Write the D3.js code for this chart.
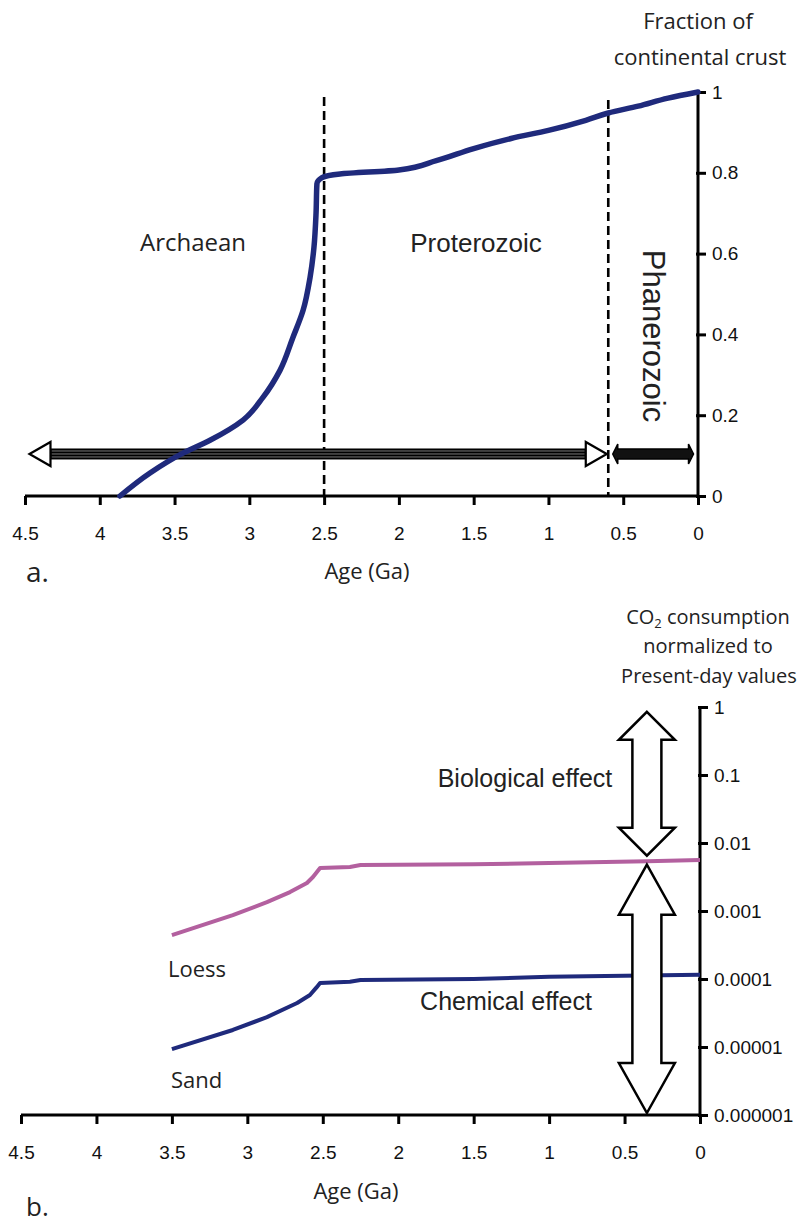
<!DOCTYPE html>
<html>
<head>
<meta charset="utf-8">
<script src="https://cdn.jsdelivr.net/npm/d3@7"></script>
<style>
  body { margin: 0; background: #fff; }
</style>
</head>
<body>
<script>
var w = 799;
var h = 1227;

// panel a: cumulative fraction of continental crust
var crustAge  = [3.865, 3.664, 3.444, 3.263, 3.042, 2.909, 2.795, 2.708, 2.641, 2.594, 2.568, 2.554, 2.548, 2.514, 2.394, 2.0, 1.75, 1.5, 1.25, 1.0, 0.75, 0.6, 0.4, 0.2, 0];
var crustFrac = [0, 0.057, 0.106, 0.138, 0.188, 0.244, 0.311, 0.393, 0.459, 0.541, 0.615, 0.699, 0.773, 0.788, 0.797, 0.807, 0.83, 0.86, 0.885, 0.905, 0.93, 0.948, 0.965, 0.985, 1.0];

// panel b: CO2 consumption (normalized)
var loessAge = [3.5, 3.096, 2.87, 2.717, 2.605, 2.565, 2.518, 2.32, 2.25, 1.5, 1.0, 0.35, 0];
var loessVal = [0.000443, 0.00087, 0.00135, 0.0019, 0.00258, 0.00316, 0.00429, 0.00444, 0.00474, 0.00485, 0.0051, 0.0054, 0.0056];
var sandAge  = [3.5, 3.096, 2.87, 2.67, 2.585, 2.54, 2.518, 2.32, 2.25, 1.5, 1.0, 0];
var sandVal  = [0.0000093, 0.0000178, 0.0000275, 0.0000444, 0.0000582, 0.0000759, 0.0000871, 0.0000912, 0.0000966, 0.0001, 0.000108, 0.000115];

var ageTicks = [4.5, 4, 3.5, 3, 2.5, 2, 1.5, 1, 0.5, 0];
var fracTicks = [0, 0.2, 0.4, 0.6, 0.8, 1];
var logTicks = [1, 0.1, 0.01, 0.001, 0.0001, 0.00001, 0.000001];
var logLabels = ["1", "0.1", "0.01", "0.001", "0.0001", "0.00001", "0.000001"];

// era boundaries (Ga)
var eraBounds = [2.5, 0.6];

var svg = d3.select("body").append("svg")
            .attr("width", w)
            .attr("height", h);

var humanist = "'Open Sans', 'Noto Sans', sans-serif";
var arial = "'Liberation Sans', Arial, sans-serif";
var navy = "#1f2a7c";
var pink = "#b3609f";

// tick labels in reference are a condensed Arial; use narrow face if present
var tickFont = "'Liberation Sans Narrow', 'Liberation Sans', Arial, sans-serif";
var tickSize = "21px";
var probe = svg.append("text").style("font-family", tickFont).style("font-size", tickSize).text("0.000001");
if (probe.node().getComputedTextLength() > 80) {
  tickFont = arial;
  tickSize = "19px";
}
probe.remove();

function styleAxis(g) {
  g.selectAll("line, path").attr("stroke", "#000").attr("stroke-width", 3);
  g.selectAll(".tick text")
   .style("font-family", tickFont)
   .style("font-size", tickSize)
   .attr("fill", "#111");
}

// ---------------- panel a ----------------
var xA = d3.scaleLinear().domain([4.5, 0]).range([25, 698]);
var yA = d3.scaleLinear().domain([0, 1]).range([496, 92]);

var axA = svg.append("g")
             .attr("transform", "translate(0," + yA(0) + ")")
             .call(d3.axisBottom(xA).tickValues(ageTicks).tickSize(9).tickPadding(22).tickFormat(d3.format("")));
styleAxis(axA);
axA.select(".domain").attr("d", "M" + xA(4.5) + ",0H" + xA(0));

var ayA = svg.append("g")
             .attr("transform", "translate(" + xA(0) + ",0)")
             .call(d3.axisRight(yA).tickValues(fracTicks).tickSize(8).tickPadding(6).tickFormat(d3.format("")));
styleAxis(ayA);
ayA.select(".domain").attr("d", "M0," + yA(0) + "V" + yA(1));
ayA.selectAll(".tick line").attr("x1", -2);

// dashed era boundaries
svg.selectAll(".era")
   .data(eraBounds)
   .enter().append("line")
   .attr("x1", function(d) { return xA(d); })
   .attr("x2", function(d) { return xA(d); })
   .attr("y1", function(d, i) { return i == 0 ? 97 : 100; })
   .attr("y2", yA(0))
   .attr("stroke", "#000")
   .attr("stroke-width", 2.6)
   .attr("stroke-dasharray", "9,5");

// time-span arrows (at fraction 0.104)
var arrY = yA(0.104);
function openHead(tipX, dir) {
  // dir = -1 points left, 1 points right
  var bx = tipX - dir * 21;
  return "M" + tipX + "," + arrY + "L" + bx + "," + (arrY - 12) + "L" + bx + "," + (arrY + 12) + "Z";
}
var longL = xA(4.47), longR = xA(0.61);
svg.append("rect")
   .attr("x", longL + 20).attr("y", arrY - 5.5)
   .attr("width", longR - longL - 40).attr("height", 11)
   .attr("fill", "#000");
[-3, 0, 3].forEach(function(o) {
  svg.append("line")
     .attr("x1", longL + 22).attr("x2", longR - 22)
     .attr("y1", arrY + o).attr("y2", arrY + o)
     .attr("stroke", "#999").attr("stroke-width", 0.8);
});
svg.append("path").attr("d", openHead(longL, -1))
   .attr("fill", "#fff").attr("stroke", "#000").attr("stroke-width", 2.2);
svg.append("path").attr("d", openHead(longR, 1))
   .attr("fill", "#fff").attr("stroke", "#000").attr("stroke-width", 2.2);

// Phanerozoic short arrow
var shL = xA(0.57), shR = xA(0.03);
svg.append("path")
   .attr("d", "M" + shL + "," + arrY + "L" + (shL + 5) + "," + (arrY - 10) + "L" + (shL + 5) + "," + (arrY - 5) +
              "L" + (shR - 5) + "," + (arrY - 5) + "L" + (shR - 5) + "," + (arrY - 10) + "L" + shR + "," + arrY +
              "L" + (shR - 5) + "," + (arrY + 10) + "L" + (shR - 5) + "," + (arrY + 5) +
              "L" + (shL + 5) + "," + (arrY + 5) + "L" + (shL + 5) + "," + (arrY + 10) + "Z")
   .attr("fill", "#111").attr("stroke", "#000").attr("stroke-width", 1.5);

// crust growth curve
var lineA = d3.line()
              .x(function(d, i) { return xA(crustAge[i]); })
              .y(function(d) { return yA(d); })
              .curve(d3.curveMonotoneY);
svg.append("path")
   .attr("d", lineA(crustFrac))
   .attr("fill", "none")
   .attr("stroke", navy)
   .attr("stroke-width", 5.5)
   .attr("stroke-linejoin", "round")
   .attr("stroke-linecap", "round");

// panel a text
svg.append("text").attr("x", 698).attr("y", 29).attr("text-anchor", "middle")
   .style("font-family", humanist).style("font-size", "22px").attr("fill", "#222").text("Fraction of");
svg.append("text").attr("x", 700).attr("y", 65).attr("text-anchor", "middle")
   .style("font-family", humanist).style("font-size", "22px").attr("fill", "#222").text("continental crust");
svg.append("text").attr("x", 193).attr("y", 251).attr("text-anchor", "middle")
   .style("font-family", humanist).style("font-size", "24px").attr("fill", "#222").text("Archaean");
svg.append("text").attr("x", 476).attr("y", 252).attr("text-anchor", "middle")
   .style("font-family", arial).style("font-size", "26px").attr("fill", "#222").text("Proterozoic");
svg.append("text").attr("transform", "translate(643,336) rotate(90)").attr("text-anchor", "middle")
   .style("font-family", arial).style("font-size", "31px").attr("fill", "#222").text("Phanerozoic");
svg.append("text").attr("x", 367).attr("y", 579).attr("text-anchor", "middle")
   .style("font-family", humanist).style("font-size", "22px").attr("fill", "#222").text("Age (Ga)");
svg.append("text").attr("x", 26).attr("y", 582)
   .style("font-family", humanist).style("font-size", "28px").attr("fill", "#222").text("a.");

// ---------------- panel b ----------------
var xB = d3.scaleLinear().domain([4.5, 0]).range([21, 700]);
var yB = d3.scaleLog().domain([0.000001, 1]).range([1115, 707]);

var axB = svg.append("g")
             .attr("transform", "translate(0," + yB(0.000001) + ")")
             .call(d3.axisBottom(xB).tickValues(ageTicks).tickSize(9).tickPadding(22).tickFormat(d3.format("")));
styleAxis(axB);
axB.select(".domain").attr("d", "M" + xB(4.5) + ",0H" + xB(0));

var ayB = svg.append("g")
             .attr("transform", "translate(" + xB(0) + ",0)")
             .call(d3.axisRight(yB).tickValues(logTicks).tickSize(8).tickPadding(6)
                     .tickFormat(function(d, i) { return logLabels[i]; }));
styleAxis(ayB);
ayB.select(".domain").attr("d", "M0," + yB(0.000001) + "V" + yB(1));
ayB.selectAll(".tick line").attr("x1", -2);

var lineB = d3.line()
              .x(function(d) { return xB(d[0]); })
              .y(function(d) { return yB(d[1]); });

svg.append("path")
   .attr("d", lineB(d3.zip(loessAge, loessVal)))
   .attr("fill", "none").attr("stroke", pink).attr("stroke-width", 4)
   .attr("stroke-linejoin", "round");
svg.append("path")
   .attr("d", lineB(d3.zip(sandAge, sandVal)))
   .attr("fill", "none").attr("stroke", navy).attr("stroke-width", 4)
   .attr("stroke-linejoin", "round");

// block arrows (vertical, double-headed)
function blockArrow(cx, top, bottom, headH) {
  var hw = 28, sw = 14.5;
  return "M" + cx + "," + top +
         "L" + (cx + hw) + "," + (top + headH) + "L" + (cx + sw) + "," + (top + headH) +
         "L" + (cx + sw) + "," + (bottom - headH) + "L" + (cx + hw) + "," + (bottom - headH) +
         "L" + cx + "," + bottom +
         "L" + (cx - hw) + "," + (bottom - headH) + "L" + (cx - sw) + "," + (bottom - headH) +
         "L" + (cx - sw) + "," + (top + headH) + "L" + (cx - hw) + "," + (top + headH) + "Z";
}
var arrAge = 0.352;
svg.append("path")
   .attr("d", blockArrow(xB(arrAge), yB(0.85), yB(0.0065), 28))
   .attr("fill", "#fff").attr("stroke", "#000").attr("stroke-width", 2.5).attr("stroke-linejoin", "miter");
svg.append("path")
   .attr("d", blockArrow(xB(arrAge), yB(0.0048), yB(0.00000107), 50))
   .attr("fill", "#fff").attr("stroke", "#000").attr("stroke-width", 2.5).attr("stroke-linejoin", "miter");

// panel b text
svg.append("text").attr("x", 708).attr("y", 624).attr("text-anchor", "middle")
   .style("font-family", humanist).style("font-size", "20px").attr("fill", "#222")
   .html("CO<tspan font-size='13px' dy='4'>2</tspan><tspan dy='-4'> consumption</tspan>");
svg.append("text").attr("x", 708).attr("y", 653).attr("text-anchor", "middle")
   .style("font-family", humanist).style("font-size", "20px").attr("fill", "#222").text("normalized to");
svg.append("text").attr("x", 709).attr("y", 683).attr("text-anchor", "middle")
   .style("font-family", humanist).style("font-size", "20px").attr("fill", "#222").text("Present-day values");
svg.append("text").attr("x", 525).attr("y", 787).attr("text-anchor", "middle")
   .style("font-family", arial).style("font-size", "25px").attr("fill", "#222").text("Biological effect");
svg.append("text").attr("x", 506).attr("y", 1010).attr("text-anchor", "middle")
   .style("font-family", arial).style("font-size", "25px").attr("fill", "#222").text("Chemical effect");
svg.append("text").attr("x", 168).attr("y", 977)
   .style("font-family", humanist).style("font-size", "22px").attr("fill", "#222").text("Loess");
svg.append("text").attr("x", 171).attr("y", 1088)
   .style("font-family", humanist).style("font-size", "22px").attr("fill", "#222").text("Sand");
svg.append("text").attr("x", 356).attr("y", 1199).attr("text-anchor", "middle")
   .style("font-family", humanist).style("font-size", "22px").attr("fill", "#222").text("Age (Ga)");
svg.append("text").attr("x", 26).attr("y", 1216)
   .style("font-family", humanist).style("font-size", "26px").attr("fill", "#222").text("b.");
</script>
</body>
</html>
